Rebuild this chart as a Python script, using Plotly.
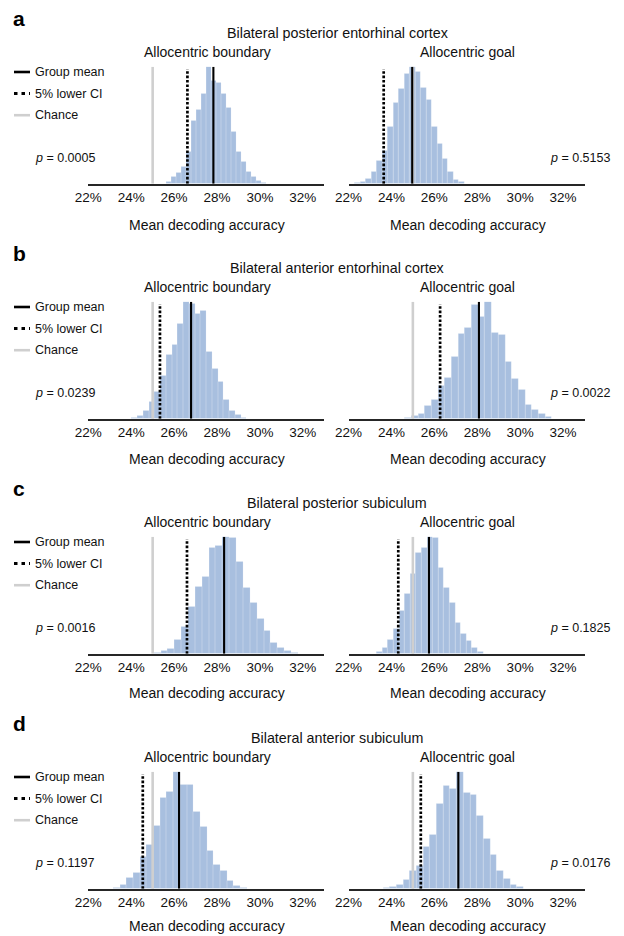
import plotly.graph_objects as go

# ---------------- data ----------------
PANEL_LETTERS = ["a", "b", "c", "d"]
PANEL_TITLES = [
    "Bilateral posterior entorhinal cortex",
    "Bilateral anterior entorhinal cortex",
    "Bilateral posterior subiculum",
    "Bilateral anterior subiculum",
]
CONDITIONS = ["Allocentric boundary", "Allocentric goal"]
LEGEND_LABELS = ["Group mean", "5% lower CI", "Chance"]
X_LABEL = "Mean decoding accuracy"
TICK_VALUES = [22, 24, 26, 28, 30, 32]
TICK_LABELS = ["22%", "24%", "26%", "28%", "30%", "32%"]
CHANCE = 25.0

P_VALUES = [["0.0005", "0.5153"], ["0.0239", "0.0022"],
            ["0.0016", "0.1825"], ["0.1197", "0.0176"]]
GROUP_MEAN = [[27.83, 24.97], [26.79, 28.08], [28.33, 25.75], [26.23, 27.12]]
LOWER_CI = [[26.62, 23.64], [25.34, 26.27], [26.60, 24.32], [24.54, 25.37]]

# permutation histograms: first bin left edge (%), bin width (%), relative heights
HIST_START = [[25.62, 22.30], [24.02, 24.63], [25.06, 23.31], [23.17, 23.62]]
HIST_WIDTH = [[0.233, 0.255], [0.268, 0.311], [0.320, 0.261], [0.311, 0.311]]

A_BOUNDARY = [2, 6.3, 9.7, 14.8, 27.6, 53.7, 63, 77.3, 100, 88, 86, 77, 65,
              44.6, 27.6, 19, 10.5, 5.7, 2.8, 1.1]
A_GOAL = [0.6, 1.4, 4.3, 10, 20, 28, 49, 69, 81, 94, 100, 96, 82, 72, 49,
          34, 21, 10.6, 3.7, 1.4, 0.3]
B_BOUNDARY = [0.6, 2.5, 6.5, 14.4, 23.5, 36.8, 54.7, 63.2, 81, 100, 98.6,
              90, 92, 57.5, 42.8, 32, 16.4, 7.1, 3.7, 0.8]
B_GOAL = [1.1, 2.6, 4.6, 10.8, 16, 27.9, 35, 53, 72.4, 78, 97.2, 87.2, 100,
          73.5, 71.5, 48.7, 34.5, 24.5, 11.7, 7.5, 4, 1.4]
C_BOUNDARY = [0.9, 2.3, 4.6, 12.3, 23, 40, 57, 66, 91, 92.3, 100, 99.4,
              78.6, 56.6, 43.7, 30, 19.4, 9.4, 5.1, 2.6, 0.9]
C_GOAL = [1.4, 5.1, 12.3, 21.4, 36.6, 51.7, 68, 86, 90.9, 100, 99, 73.7,
          56.6, 43.7, 26.6, 17.4, 10.9, 5.1, 1.4]
D_BOUNDARY = [0.6, 3.7, 9.4, 13.6, 27, 37.8, 54, 77.6, 83.2, 100, 88.6,
              88.6, 65.9, 52.6, 32.1, 20.7, 15.6, 6.5, 2.8, 0.6]
D_GOAL = [0.9, 2, 3.7, 8, 15.6, 19.9, 35.5, 46.3, 73, 88, 85.8, 100, 81.8,
          80.1, 62.5, 42.6, 29.3, 15.6, 8.5, 3.7, 1.4]

HEIGHTS = [[A_BOUNDARY, A_GOAL], [B_BOUNDARY, B_GOAL],
           [C_BOUNDARY, C_GOAL], [D_BOUNDARY, D_GOAL]]

# ---------------- layout helpers ----------------
PAGE_MARGIN = 8          # default body margin of the html page
WIN_W, WIN_H = 624, 936
W, H = WIN_W - PAGE_MARGIN, WIN_H - PAGE_MARGIN
FONT = "Liberation Sans, Arial, Helvetica, sans-serif"
BAR_COLOR = "rgb(168,191,223)"
CHANCE_COLOR = "#cfcfcf"
PANEL_DY = 235.0
X_DOMAINS_PX = [(88.3, 324.3), (348.5, 584.5)]
AXIS_Y0 = 183.8
PLOT_H = 117.0
XLABEL_Y = [225, 459, 693, 926]


def px(x):
    return (x - PAGE_MARGIN) / W


def py(y):
    return 1 - (y - PAGE_MARGIN) / H


fig = go.Figure()
annotations = []
shapes = []
layout_axes = {}

idx = 0
for k in range(4):
    dy = PANEL_DY * k
    base = AXIS_Y0 + dy
    for j in range(2):
        idx += 1
        xa = "x" if idx == 1 else f"x{idx}"
        ya = "y" if idx == 1 else f"y{idx}"
        xkey = "xaxis" if idx == 1 else f"xaxis{idx}"
        ykey = "yaxis" if idx == 1 else f"yaxis{idx}"

        heights = HEIGHTS[k][j]
        w = HIST_WIDTH[k][j]
        start = HIST_START[k][j]
        centers = [start + w * (i + 0.5) for i in range(len(heights))]

        fig.add_trace(go.Bar(
            x=centers, y=heights, width=w, xaxis=xa, yaxis=ya,
            marker=dict(color=BAR_COLOR,
                        line=dict(color="rgba(255,255,255,0.35)", width=0.5)),
            showlegend=False, hoverinfo="skip"))
        # chance level
        fig.add_trace(go.Scatter(
            x=[CHANCE, CHANCE], y=[0, 100], mode="lines", xaxis=xa, yaxis=ya,
            line=dict(color=CHANCE_COLOR, width=2.6), showlegend=False,
            hoverinfo="skip"))
        # 5% lower confidence interval
        fig.add_trace(go.Scatter(
            x=[LOWER_CI[k][j]] * 2, y=[0, 98], mode="lines", xaxis=xa,
            yaxis=ya, line=dict(color="black", width=2.7, dash="2.6px,1.8px"),
            showlegend=False, hoverinfo="skip"))
        # group mean
        fig.add_trace(go.Scatter(
            x=[GROUP_MEAN[k][j]] * 2, y=[0, 100], mode="lines", xaxis=xa,
            yaxis=ya, line=dict(color="black", width=2.1), showlegend=False,
            hoverinfo="skip"))

        x0, x1 = X_DOMAINS_PX[j]
        layout_axes[xkey] = dict(
            domain=[px(x0), px(x1)], range=[22, 33.0], anchor=ya,
            showline=True, linecolor="#262626", linewidth=1.5,
            showgrid=False, zeroline=False, tickmode="array",
            tickvals=TICK_VALUES, ticktext=TICK_LABELS, ticks="",
            tickfont=dict(family=FONT, size=13.5, color="#111"),
            automargin=False, fixedrange=True)
        layout_axes[ykey] = dict(
            domain=[py(base), py(base - PLOT_H)], range=[0, 100],
            anchor=xa, visible=False, automargin=False, fixedrange=True)

        cx = (x0 + x1) / 2
        annotations.append(dict(
            text=CONDITIONS[j], x=px(cx + 1), y=py(52 + dy), xref="paper",
            yref="paper", showarrow=False, xanchor="center", yanchor="middle",
            font=dict(family=FONT, size=14, color="#111")))
        annotations.append(dict(
            text=X_LABEL, x=px(cx + 1), y=py(XLABEL_Y[k]), xref="paper",
            yref="paper", showarrow=False, xanchor="center", yanchor="middle",
            font=dict(family=FONT, size=14, color="#111")))
        if j == 0:
            annotations.append(dict(
                text=f"<i>p</i> = {P_VALUES[k][j]}", x=px(33), y=py(158 + dy),
                xref="paper", yref="paper", showarrow=False, xanchor="left",
                yanchor="middle", font=dict(family=FONT, size=12.5,
                                            color="#111")))
        else:
            annotations.append(dict(
                text=f"<i>p</i> = {P_VALUES[k][j]}", x=px(612), y=py(158 + dy),
                xref="paper", yref="paper", showarrow=False, xanchor="right",
                yanchor="middle", font=dict(family=FONT, size=12.5,
                                            color="#111")))

    # panel letter and title
    annotations.append(dict(
        text=f"<b>{PANEL_LETTERS[k]}</b>", x=px(11), y=py(18 + dy),
        xref="paper", yref="paper", showarrow=False, xanchor="left",
        yanchor="middle", font=dict(family=FONT, size=21, color="black")))
    annotations.append(dict(
        text=PANEL_TITLES[k], x=px(337), y=py(32.5 + dy), xref="paper",
        yref="paper", showarrow=False, xanchor="center", yanchor="middle",
        font=dict(family=FONT, size=14.3, color="#111")))

    # legend (keys + labels)
    legend_styles = [dict(color="black", width=2.6),
                     dict(color="black", width=3, dash="3.5px,4px"),
                     dict(color=CHANCE_COLOR, width=2.6)]
    for i, (lab, st) in enumerate(zip(LEGEND_LABELS, legend_styles)):
        yy = 72 + 21.6 * i + dy
        shapes.append(dict(type="line", xref="paper", yref="paper",
                           x0=px(14), x1=px(30), y0=py(yy), y1=py(yy),
                           line=st))
        annotations.append(dict(
            text=lab, x=px(33), y=py(yy), xref="paper", yref="paper",
            showarrow=False, xanchor="left", yanchor="middle",
            font=dict(family=FONT, size=12.5, color="#111")))

fig.update_layout(
    width=W, height=H, margin=dict(l=0, r=0, t=0, b=0, autoexpand=False),
    paper_bgcolor="white", plot_bgcolor="white", bargap=0,
    showlegend=False, annotations=annotations, shapes=shapes,
    font=dict(family=FONT), **layout_axes)

fig.write_html("out.html")
